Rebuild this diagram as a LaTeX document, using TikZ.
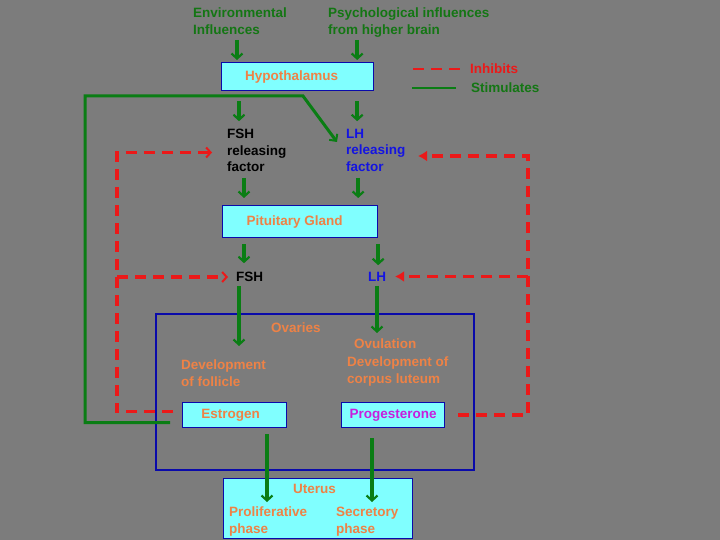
\documentclass[tikz,border=0pt]{standalone}
\usepackage{fontspec}
\setmainfont{Liberation Sans}
\usetikzlibrary{arrows.meta}
\definecolor{bg}{RGB}{124,124,124}
\definecolor{sgreen}{RGB}{10,125,20}
\definecolor{tgreen}{RGB}{20,118,20}
\definecolor{ired}{RGB}{235,25,25}
\definecolor{orng}{RGB}{238,130,70}
\definecolor{cyanf}{RGB}{128,255,255}
\definecolor{bblue}{RGB}{10,10,170}
\definecolor{tblue}{RGB}{20,20,225}
\definecolor{magt}{RGB}{200,30,220}
\begin{document}
\begin{tikzpicture}[x=1pt,y=-1pt,
  lbl/.style={font=\bfseries\fontsize{13.5}{16.5}\selectfont, inner sep=0pt, align=left, anchor=north west},
  box/.style={draw=bblue, fill=cyanf, line width=1.2pt, inner sep=0pt, anchor=north west,
    font=\bfseries\fontsize{13.5}{16.5}\selectfont, text=orng},
  stim/.style={draw=sgreen, line width=3.6pt, -{Straight Barb[length=5pt,width=11pt,line width=2.2pt]}},
  stimline/.style={draw=sgreen, line width=3pt},
  inh/.style={draw=ired, line width=3.6pt, dash pattern=on 11pt off 7pt},
  inhthin/.style={-{Straight Barb[length=4.5pt,width=10pt,line width=2pt]}},
  inhbold/.style={-{Latex[length=9pt,width=11pt]}}
]
\fill[bg] (0,0) rectangle (720,540);
\useasboundingbox (0,0) rectangle (720,540);

% top texts
\node[lbl, text=tgreen] (env) at (193,8) {Environmental\\Influences};
\node[lbl, text=tgreen] (psy) at (328,8) {Psychological influences\\from higher brain};

% legend
\node[lbl, text=ired] (inhT) at (470,64) {Inhibits};
\node[lbl, text=tgreen] (stT) at (471,83) {Stimulates};
\draw[draw=ired, line width=2.2pt, dash pattern=on 11pt off 7pt] ([xshift=-57pt]inhT.west) -- ([xshift=-10pt]inhT.west);
\draw[draw=sgreen, line width=1.8pt] ([xshift=-59pt]stT.west) -- ([xshift=-15pt]stT.west);

% Hypothalamus
\node[box, minimum width=152pt, minimum height=28pt] (hyp) at (221,62) {\hspace*{-12pt}Hypothalamus};
\draw[stim] ([xshift=16pt,yshift=22pt]hyp.north west) -- ([xshift=16pt,yshift=2pt]hyp.north west);
\draw[stim] ([xshift=-17pt,yshift=22pt]hyp.north east) -- ([xshift=-17pt,yshift=2pt]hyp.north east);

% releasing factors
\node[lbl] (fshrf) at (227,129) {FSH\\releasing\\factor};
\node[lbl, text=tblue] (lhrf) at (346,129) {LH\\releasing\\factor};
\draw[stim] ([xshift=18pt,yshift=-10pt]hyp.south west) -- ([xshift=18pt,yshift=-30pt]hyp.south west);
\draw[stim] ([xshift=-17pt,yshift=-10pt]hyp.south east) -- ([xshift=-17pt,yshift=-30pt]hyp.south east);

% Pituitary
\node[box, minimum width=155pt, minimum height=32pt] (pit) at (222,205) {\hspace*{-11pt}Pituitary Gland};
\draw[stim] ([xshift=22pt,yshift=27pt]pit.north west) -- ([xshift=22pt,yshift=7pt]pit.north west);
\draw[stim] ([xshift=-20pt,yshift=27pt]pit.north east) -- ([xshift=-20pt,yshift=7pt]pit.north east);

% FSH / LH
\node[lbl] (fsh) at (236,272) {FSH};
\node[lbl, text=tblue] (lh) at (368,272) {LH};
\draw[stim] ([xshift=22pt,yshift=-6pt]pit.south west) -- ([xshift=22pt,yshift=-25pt]pit.south west);
\draw[stim] ([yshift=-6pt]pit.south east) -- ([yshift=-27pt]pit.south east);

% Ovaries
\node[draw=bblue, line width=1.5pt, minimum width=318pt, minimum height=156pt, inner sep=0pt, anchor=north west] (ovbox) at (155,313) {};
\node[lbl, text=orng] (ovt) at (271,323) {Ovaries};
\node[lbl, text=orng] (dev) at (181,360) {Development\\of follicle};
\node[lbl, text=orng, font=\bfseries\fontsize{13.5}{17.5}\selectfont] (ovu) at (347,339) {\hspace*{7pt}Ovulation\\Development of\\corpus luteum};
\draw[stim] ([xshift=3pt,yshift=-4pt]fsh.south west) -- ([xshift=58pt,yshift=14pt]dev.north west);
\draw[stim] ([xshift=9pt,yshift=-4pt]lh.south west) -- ([xshift=30pt,yshift=6pt]ovu.north west);

\node[box, minimum width=104pt, minimum height=25pt] (est) at (182,402) {\hspace*{-8pt}Estrogen};
\node[box, minimum width=103pt, minimum height=25pt, text=magt] (prog) at (341,402) {Progesterone};

% Uterus
\node[box, minimum width=189pt, minimum height=60pt] (ut) at (223,478) {};
\node[lbl, text=orng] (utt) at (293,484) {Uterus};
\node[lbl, text=orng] (prol) at (229,507) {Proliferative\\phase};
\node[lbl, text=orng] (secr) at (336,507) {Secretory\\phase};
\draw[stim] ([xshift=85pt,yshift=-6pt]est.south west) -- ([xshift=44pt,yshift=-24pt]ut.north west);
\draw[stim] ([xshift=31pt,yshift=-10pt]prog.south west) -- ([xshift=149pt,yshift=-24pt]ut.north west);

% green feedback (stimulates)
\coordinate (gL) at (85,96);
\coordinate (gK) at (303,96);
\draw[stimline, -{Straight Barb[length=5pt,width=10pt,line width=2pt]}]
  ([xshift=-12pt,yshift=-7.5pt]est.west) -| (gL) -- (gK) -- ([xshift=-9pt,yshift=-13pt]lhrf.north west);

% red feedback (inhibits) from estrogen
\coordinate (rL) at (117,152.5);
\coordinate (rB) at (117,277);
\draw[inh, inhthin] ([xshift=-9pt,yshift=3.5pt]est.west) -| (rL) -- ([xshift=-15pt,yshift=-23.5pt]fshrf.north west);
\draw[inh, inhthin] (rB) -- ([xshift=-8pt,yshift=-5pt]fsh.north west);

% red feedback from progesterone
\coordinate (rR) at (528,156);
\coordinate (rC) at (528,276.5);
\draw[inh, inhbold] ([xshift=13pt]prog.east) -| (rR) -- ([xshift=72pt,yshift=-27pt]lhrf.north west);
\draw[inh, inhbold] (rC) -- ([xshift=27pt,yshift=-4.5pt]lh.north west);
\end{tikzpicture}
\end{document}
